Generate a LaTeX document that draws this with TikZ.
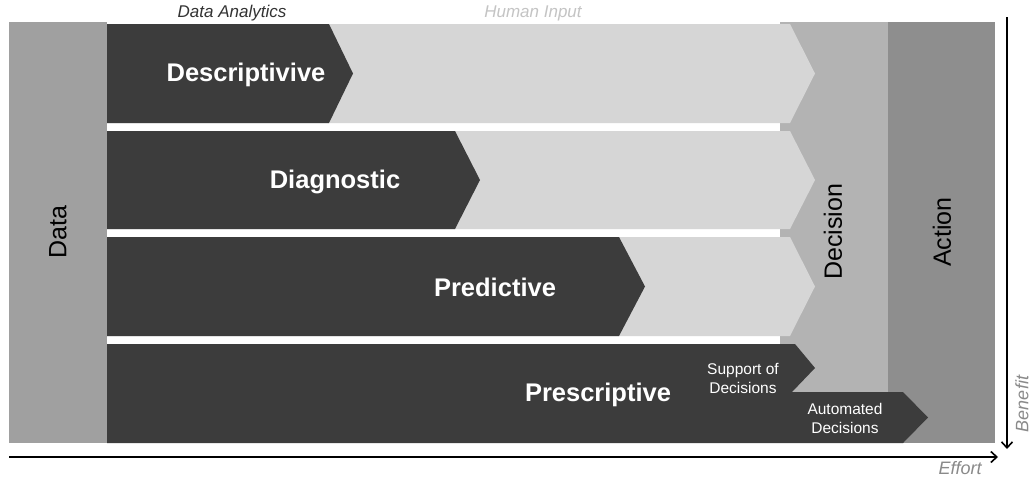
\documentclass[tikz,border=0pt]{standalone}
\usepackage{fontspec}
\setmainfont{Liberation Sans}
\usetikzlibrary{arrows.meta}
\definecolor{stagedark}{HTML}{3C3C3C}
\definecolor{stagelight}{HTML}{D6D6D6}
\definecolor{datagray}{HTML}{A0A0A0}
\definecolor{decisiongray}{HTML}{B3B3B3}
\definecolor{actiongray}{HTML}{8E8E8E}
\definecolor{axislabel}{HTML}{8A8A8A}
\definecolor{inputlabel}{HTML}{C4C4C4}
\begin{document}
\begin{tikzpicture}[x=1pt,y=-1pt,
  plain/.style={inner sep=0pt,outer sep=0pt},
  coltext/.style={plain,rotate=90,font=\fontsize{25}{28}\selectfont,text=black},
  stagetext/.style={plain,font=\fontsize{25.5}{28}\selectfont\bfseries,text=white},
  subtext/.style={plain,align=center,font=\fontsize{15.5}{19}\selectfont,text=white},
  headtext/.style={plain,font=\fontsize{17}{20}\selectfont\itshape},
  axistext/.style={plain,font=\fontsize{18}{20}\selectfont\itshape,text=axislabel},
  axisline/.style={line width=1.6pt,-{Straight Barb[length=6pt,width=11pt,line width=1.6pt]}}]
\useasboundingbox (0,0) rectangle (1031,477);
\fill[white] (0,0) rectangle (1031,477);

% columns: data, decision, action
\fill[datagray] (9,22) rectangle (107,443);
\fill[decisiongray] (780,22) rectangle (888,392);
\fill[actiongray] (888,22) rectangle (995,443);

% human input arrows (rows 1-3)
\foreach \t/\b in {24/123, 131/229, 237/336}{
  \fill[stagelight] (107,\t) -- (790,\t) -- (815,{(\t+\b)/2}) -- (790,\b) -- (107,\b) -- cycle;
}

% data analytics arrows
\fill[stagedark] (107,24) -- (329,24) -- (353,73.5) -- (329,123) -- (107,123) -- cycle;
\fill[stagedark] (107,131) -- (455,131) -- (480,180) -- (455,229) -- (107,229) -- cycle;
\fill[stagedark] (107,237) -- (619,237) -- (645,286.5) -- (619,336) -- (107,336) -- cycle;
\fill[stagedark] (107,344) -- (795,344) -- (815,368) -- (792,392) -- (903,392)
  -- (928,417.5) -- (903,443) -- (107,443) -- cycle;

% stage labels
\node[stagetext] (descr) at (246,75) {Descriptivive};
\node[stagetext] (diag) at (335,182) {Diagnostic};
\node[stagetext] (pred) at (495,287) {Predictive};
\node[stagetext] (presc) at (598,395) {Prescriptive};
\node[subtext] (support) at (743,378) {Support of\\Decisions};
\node[subtext] (auto) at (845,418.5) {Automated\\Decisions};

% column labels
\node[coltext] (data) at (58,232) {Data};
\node[coltext] (decision) at (833,232) {Decision};
\node[coltext] (action) at (942,232) {Action};

% headers
\node[headtext,text=black!80] (analytics) at (232,13) {Data Analytics};
\node[headtext,text=inputlabel] (human) at (533,13) {Human Input};

% axes
\coordinate (effortstart) at (9,457);
\coordinate (effortend) at (998,457);
\coordinate (benefitstart) at (1007,17);
\coordinate (benefitend) at (1007,449);
\draw[axisline] (effortstart) -- (effortend);
\draw[axisline] (benefitstart) -- (benefitend);
\node[axistext] (effort) at (960,468) {Effort};
\node[axistext,rotate=90] (benefit) at (1022,404) {Benefit};
\end{tikzpicture}
\end{document}
